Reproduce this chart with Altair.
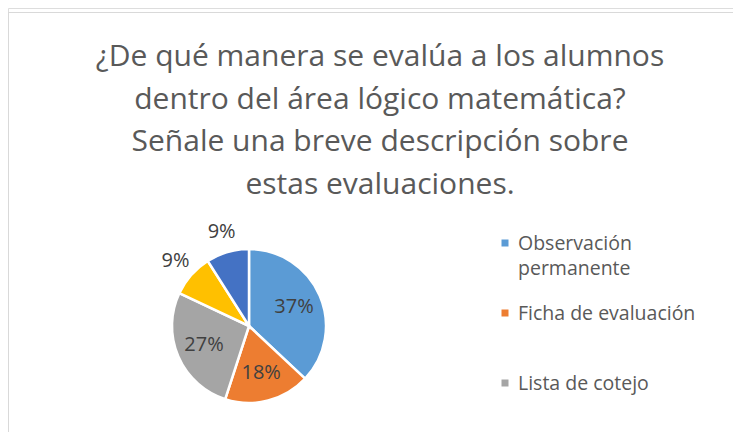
import altair as alt
import pandas as pd

# ---- data ----
categories = ["Observación permanente", "Ficha de evaluación", "Lista de cotejo", "Categoría 4", "Categoría 5"]
values = [37, 18, 27, 9, 9]
colors = ["#5B9BD5", "#ED7D31", "#A5A5A5", "#FFC000", "#4472C4"]
legend_shown = categories[:3]
title_lines = [
    "¿De qué manera se evalúa a los alumnos",
    "dentro del área lógico matemática?",
    "Señale una breve descripción sobre",
    "estas evaluaciones.",
]

df = pd.DataFrame({
    "cat": categories,
    "value": values,
    "idx": list(range(len(categories))),
})
legend_df = pd.DataFrame({
    "cat": legend_shown,
    "row": list(range(len(legend_shown))),
})

W, H = 725, 424
CX, CY, R = 241, 318, 77
FONT = "Open Sans"

color_scale = alt.Scale(domain=categories, range=colors)

base = alt.Chart(df).encode(
    theta=alt.Theta("value:Q", stack=True),
    order=alt.Order("idx:Q"),
)

pie = base.mark_arc(outerRadius=R, stroke="white", strokeWidth=2.5).encode(
    color=alt.Color("cat:N", scale=color_scale, legend=None),
    x=alt.value(CX),
    y=alt.value(CY),
)

# labels inside the large slices, outside the small ones (same stack in both layers)
labels_in = base.mark_text(font=FONT, fontSize=20, color="#404040", radius=49).encode(
    text=alt.Text("lbl_in:N"),
    x=alt.value(CX),
    y=alt.value(CY),
).transform_calculate(
    lbl_in="datum.value >= 15 ? datum.value + '%' : ''",
)

labels_out = base.mark_text(font=FONT, fontSize=20, color="#404040", radius=98).encode(
    text=alt.Text("lbl_out:N"),
    x=alt.value(CX),
    y=alt.value(CY),
).transform_calculate(
    lbl_out="datum.value < 15 ? datum.value + '%' : ''",
)

# legend (Excel shows only the first three entries)
leg_y = alt.Y("row:Q", axis=None, scale=alt.Scale(domain=[0, 2], range=[235, 375]))
leg_base = alt.Chart(legend_df)
leg_sym = leg_base.mark_square(size=49, opacity=1).encode(
    x=alt.value(497),
    y=leg_y,
    color=alt.Color("cat:N", scale=color_scale, legend=None),
)
leg_txt = leg_base.mark_text(
    font=FONT, fontSize=19.5, color="#595959", align="left",
    baseline="alphabetic", dy=7, lineHeight=25,
).encode(
    x=alt.value(510),
    y=leg_y,
    text=alt.Text("lines:N"),
).transform_calculate(
    lines=f"datum.cat == '{categories[0]}' ? ['Observación', 'permanente'] : datum.cat"
)

one = alt.Data(values=[{}])

title = alt.Chart(one).mark_text(
    text=title_lines,
    font=FONT,
    fontSize=30,
    lineHeight=42.5,
    color="#595959",
    align="center",
    baseline="alphabetic",
).encode(x=alt.value(372), y=alt.value(58))

border_top = alt.Chart(one).mark_rule(color="#D9D9D9", strokeWidth=1).encode(
    x=alt.value(0), x2=alt.value(W), y=alt.value(4.5)
)
border_left = alt.Chart(one).mark_rule(color="#D9D9D9", strokeWidth=1).encode(
    x=alt.value(0.5), y=alt.value(4), y2=alt.value(H)
)

chart = alt.layer(
    border_top, border_left, title, pie, labels_in, labels_out, leg_sym, leg_txt
).properties(
    width=W,
    height=H,
    autosize=alt.AutoSizeParams(type="none"),
    padding=0,
).configure_view(stroke=None).configure(background="white")

chart.save("out.html", embed_options={"renderer": "svg", "actions": False})
